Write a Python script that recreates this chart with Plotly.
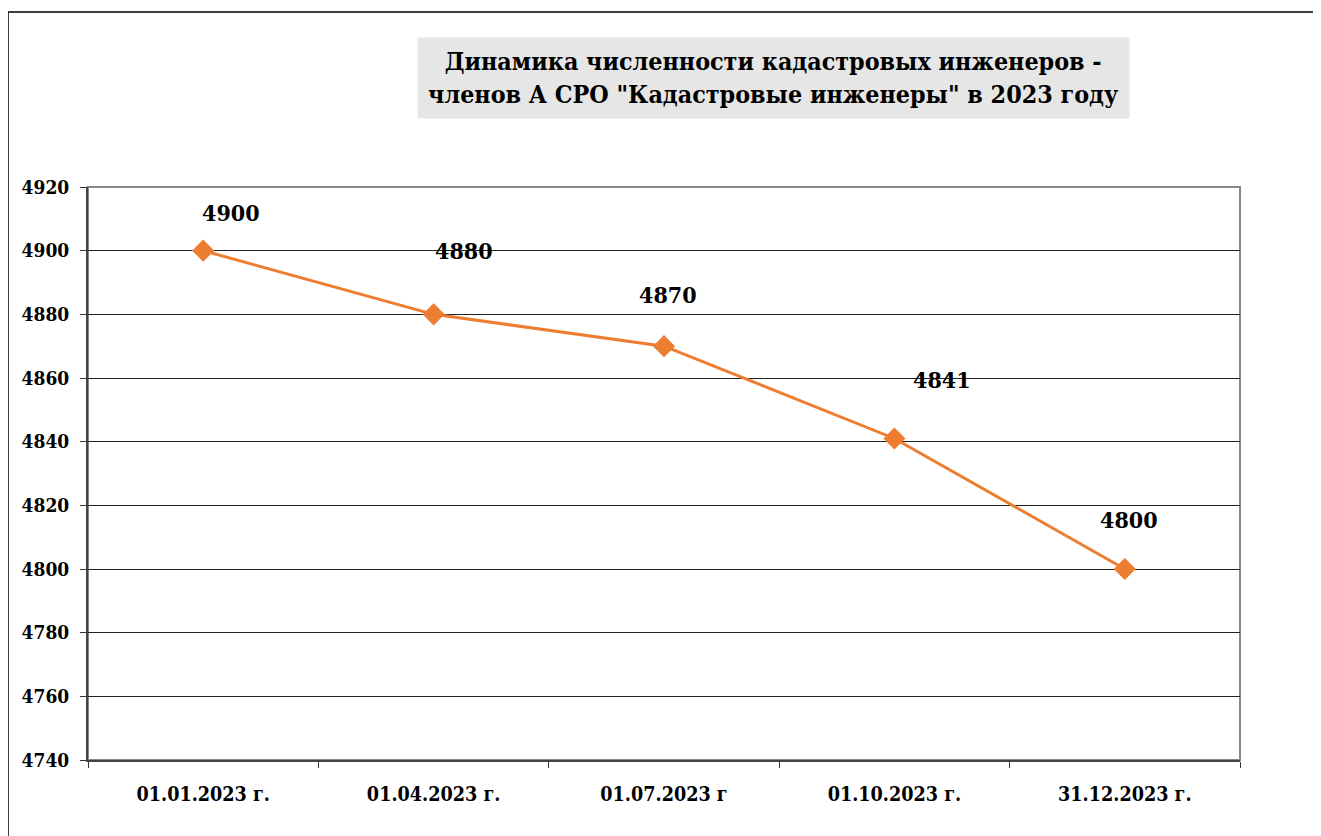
import plotly.graph_objects as go

categories = ["01.01.2023 г.", "01.04.2023 г.", "01.07.2023 г", "01.10.2023 г.", "31.12.2023 г."]
values = [4900, 4880, 4870, 4841, 4800]
y_ticks = [4740, 4760, 4780, 4800, 4820, 4840, 4860, 4880, 4900, 4920]
title_text = "Динамика численности кадастровых инженеров -<br>членов А СРО \"Кадастровые инженеры\" в 2023 году"

# label offsets (pixels) for data labels, Excel-like manual placement
label_dx = [28, 30, 4, 48, 4]
label_dy = [38, 64, 52, 59, 50]

OFF = 8  # page body margin
W, H = 1313, 828
L, T = 88 - OFF, 187 - OFF
R = W - (1240 - OFF)
B = H - (760 - OFF)
pw, ph = W - L - R, H - T - B

def px_x(p):
    return (p - OFF - L) / pw

def px_y(p):
    return (H - B - (p - OFF)) / ph

FONT = "DejaVu Serif Condensed, DejaVu Serif"
orange = "#ED7D31"

fig = go.Figure()
fig.add_trace(go.Scatter(
    x=categories, y=values, mode="lines+markers",
    line=dict(color=orange, width=3),
    marker=dict(symbol="diamond", size=17, color=orange),
    hoverinfo="skip", showlegend=False,
))

annotations = []
for c, v, dx, dy in zip(categories, values, label_dx, label_dy):
    annotations.append(dict(
        x=c, y=v, xref="x", yref="y", text=str(v), showarrow=False,
        xshift=dx, yshift=dy,
        font=dict(family=FONT, size=23, color="black", weight="bold"),
    ))

annotations.append(dict(
    x=px_x(773.5), y=px_y(78), xref="paper", yref="paper",
    text=title_text, showarrow=False, align="center",
    width=705, height=74, borderpad=3, bgcolor="#e6e6e6",
    font=dict(family=FONT, size=24.8, color="black", weight="bold"),
    xanchor="center", yanchor="middle",
))

shapes = [
    dict(type="rect", xref="paper", yref="paper",
         x0=px_x(8), x1=px_x(1400), y0=px_y(12), y1=px_y(900),
         line=dict(color="black", width=1.5), layer="below"),
    dict(type="rect", xref="paper", yref="paper",
         x0=0, x1=1, y0=0, y1=1,
         line=dict(color="#888888", width=2), layer="below"),
]

fig.update_layout(
    width=W, height=H,
    margin=dict(l=L, r=R, t=T, b=B),
    paper_bgcolor="white", plot_bgcolor="white",
    annotations=annotations, shapes=shapes,
    font=dict(family=FONT, color="black"),
)

fig.update_xaxes(
    type="category", tickson="boundaries", ticks="outside", ticklen=6,
    tickcolor="#333333", tickwidth=1, ticklabelstandoff=15,
    showline=True, linecolor="#444444", linewidth=2,
    showgrid=False, zeroline=False,
    tickfont=dict(family=FONT, size=19.6, color="black", weight="bold"),
    range=[-0.5, 4.5], fixedrange=True,
)
fig.update_yaxes(
    range=[4740, 4920], tickvals=y_ticks, ticktext=[str(t) for t in y_ticks],
    ticks="outside", ticklen=6, tickcolor="#333333", tickwidth=1, ticklabelstandoff=7,
    showline=True, linecolor="#444444", linewidth=2,
    showgrid=True, gridcolor="#222222", gridwidth=1,
    zeroline=False,
    tickfont=dict(family=FONT, size=19, color="black", weight="bold"),
    fixedrange=True,
)

fig.write_html("out.html")
